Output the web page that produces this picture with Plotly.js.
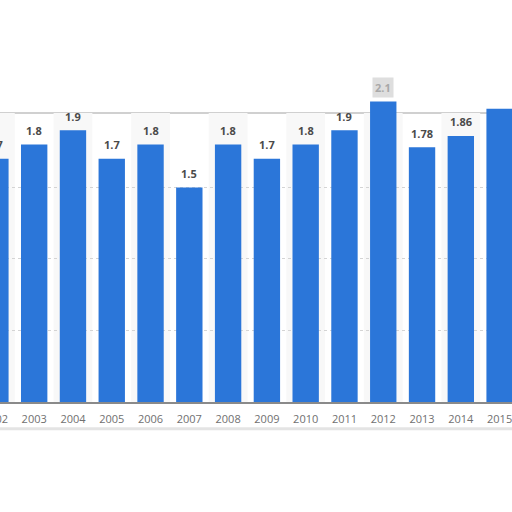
<!DOCTYPE html>
<html>
<head>
<meta charset="utf-8">
<script src="https://cdn.plot.ly/plotly-3.0.1.min.js"></script>
<style>
  html, body { margin: 0; padding: 0; width: 512px; height: 512px; overflow: hidden; background: #ffffff; }
  #chart { position: absolute; left: -24px; top: 0; width: 543px; height: 512px; }
</style>
</head>
<body>
<div id="chart"></div>
<script>
const years = [2002, 2003, 2004, 2005, 2006, 2007, 2008, 2009, 2010, 2011, 2012, 2013, 2014, 2015];
const values = [1.7, 1.8, 1.9, 1.7, 1.8, 1.5, 1.8, 1.7, 1.8, 1.9, 2.1, 1.78, 1.86, 2.05];
const labels = ["1.7", "1.8", "1.9", "1.7", "1.8", "1.5", "1.8", "1.7", "1.8", "1.9", "2.1", "1.78", "1.86", ""];
const tickLabels = ["2002", "2003", "2004", "2005", "2006", "2007", "2008", "2009", "2010", "2011", "2012", "2013", "2014", "2015"];
const highlightYear = 2012;
const frameLevel = 2.02;

const barColor = '#2b76d9';

const trace = {
  type: 'bar',
  x: years,
  y: values,
  width: 0.68,
  marker: { color: barColor, line: { width: 0 } },
  hoverinfo: 'none'
};

const shapes = [];
years.forEach(function (yr) {
  if (yr % 2 === 0) {
    shapes.push({
      type: 'rect', layer: 'below', xref: 'x', yref: 'y',
      x0: yr - 0.5, x1: yr + 0.5, y0: 0, y1: frameLevel,
      fillcolor: '#f8f8f8', line: { width: 0 }
    });
  }
});
shapes.push({
  type: 'line', layer: 'below', xref: 'paper', yref: 'y',
  x0: 0, x1: 1, y0: frameLevel, y1: frameLevel,
  line: { color: '#d0d0d0', width: 2 }
});
shapes.push({
  type: 'line', layer: 'below', xref: 'paper', yref: 'paper',
  x0: 0, x1: 1, y0: -0.072, y1: -0.072,
  line: { color: '#e4e4e4', width: 3 }
});

const annotations = [];
years.forEach(function (yr, i) {
  if (!labels[i]) return;
  const hl = yr === highlightYear;
  annotations.push({
    x: yr, y: values[i], xref: 'x', yref: 'y',
    text: labels[i], showarrow: false,
    yanchor: 'middle', yshift: 14,
    font: { family: 'Open Sans, sans-serif', size: 11, color: hl ? '#a8a8a8' : '#4a4a4a', weight: 700 },
    bgcolor: hl ? '#dedede' : 'rgba(0,0,0,0)',
    borderpad: hl ? 2 : 0
  });
});

const layout = {
  width: 543, height: 512,
  margin: { l: 0, r: 0, t: 30, b: 110, pad: 0 },
  paper_bgcolor: 'rgba(0,0,0,0)',
  plot_bgcolor: 'rgba(0,0,0,0)',
  showlegend: false,
  bargap: 0.32,
  xaxis: {
    range: [2001.5, 2015.5],
    tickvals: years,
    ticktext: tickLabels,
    showgrid: false, zeroline: false,
    showline: true, linecolor: '#8a8a8a', linewidth: 2,
    ticks: '',
    ticklabelstandoff: 6,
    tickfont: { family: 'Open Sans, sans-serif', size: 11, color: '#707070' },
    fixedrange: true
  },
  yaxis: {
    range: [0, 2.6],
    tickvals: [0.5, 1, 1.5],
    showticklabels: false,
    showgrid: true, gridcolor: '#d4d4d4', griddash: 'dot', gridwidth: 1,
    zeroline: false, showline: false, ticks: '',
    fixedrange: true
  },
  shapes: shapes,
  annotations: annotations
};

Plotly.newPlot('chart', [trace], layout, { displayModeBar: false, staticPlot: true });
</script>
</body>
</html>
